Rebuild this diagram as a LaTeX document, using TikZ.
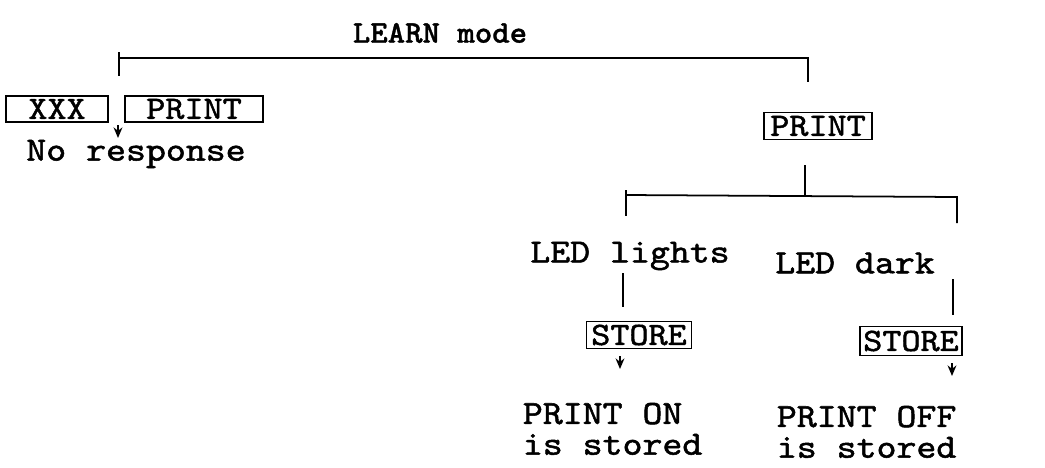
\documentclass[tikz,border=0pt]{standalone}
\usepackage{amsmath,amssymb}
\usepackage{tikz}
\usepackage{xcolor}
\usepackage{fontspec}
\usetikzlibrary{arrows.meta}
\newfontfamily\typer{lmmono10-regular}[Extension=.otf, FakeStretch=1.12, FakeBold=1.5]
\newfontfamily\typerbf{lmmonolt10-bold}[Extension=.otf, FakeStretch=1.05, FakeBold=1]

\tikzset{
  key/.style={draw, line width=1pt, inner sep=0pt, font=\typer\fontsize{18.5}{20}\selectfont},
  txt/.style={inner sep=0pt, align=left, font=\typer\fontsize{19.3}{17.5}\selectfont},
  tip/.style={-{Stealth[length=6pt, width=5pt]}}
}

\begin{document}
\begin{tikzpicture}[x=0.02cm, y=-0.02cm, line width=1pt]
  \useasboundingbox (0,0) rectangle (1045,467);
  \node[inner sep=0pt, font=\typerbf\fontsize{18}{22}\selectfont] (title) at (440,33) {LEARN mode};
  \coordinate (tl) at (119,58); \coordinate (tr) at (808,58); \coordinate (tlu) at (119,52); \coordinate (tld) at (119,76); \coordinate (trd) at (808,82);
  \draw (tlu) -- (tld); \draw (tl) -- (tr) -- (trd);
  \node[key, minimum width=2.04cm, minimum height=0.52cm] (xxx) at (57,109) {XXX}; \node[key, minimum width=2.76cm, minimum height=0.52cm] (print1) at (194,109) {PRINT};
  \coordinate (ara) at (118,125); \coordinate (arb) at (118,138); \draw[tip] (ara) -- (arb);
  \node[txt] (nores) at (136,154) {No response};
  \node[key, minimum width=2.16cm, minimum height=0.54cm] (print2) at (818,126) {PRINT};
  \coordinate (sa) at (805,165); \coordinate (ml) at (626,195); \coordinate (mr) at (957,197); \coordinate (mlu) at (626,190); \coordinate (mld) at (626,216); \coordinate (mrd) at (957,223);
  \draw (sa) -- (sa |- ml); \draw (mlu) -- (mld); \draw (ml) -- (mr) -- (mrd);
  \node[txt] (led1) at (630,256) {LED lights}; \node[txt] (led2) at (855,263) {LED dark};
  \coordinate (l1a) at (623,273); \coordinate (l1b) at (623,307); \coordinate (l2a) at (953,279); \coordinate (l2b) at (953,315);
  \draw (l1a) -- (l1b); \draw (l2a) -- (l2b);
  \node[key, minimum width=2.1cm, minimum height=0.54cm] (store1) at (639,335) {STORE}; \node[key, minimum width=2.04cm, minimum height=0.58cm] (store2) at (911,341) {STORE};
  \coordinate (a1a) at (620,356); \coordinate (a1b) at (620,369); \coordinate (a2a) at (952,363); \coordinate (a2b) at (952,376);
  \draw[tip] (a1a) -- (a1b); \draw[tip] (a2a) -- (a2b);
  \node[txt, anchor=north west] (on) at (522,402) {PRINT ON\\is stored}; \node[txt, anchor=north west] (off) at (776,405) {PRINT OFF\\is stored};
\end{tikzpicture}
\end{document}
